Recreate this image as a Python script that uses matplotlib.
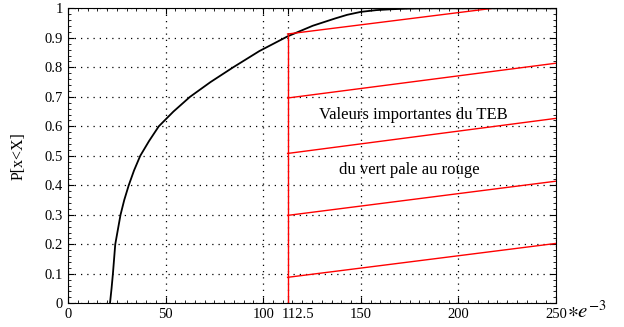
import matplotlib
matplotlib.use('Agg')
import matplotlib.pyplot as plt
from matplotlib.ticker import MultipleLocator
from matplotlib.transforms import ScaledTranslation

plt.rcParams['font.family'] = ['Liberation Serif', 'DejaVu Serif']
plt.rcParams['mathtext.fontset'] = 'stix'

# courbe de repartition
cdf_x = [21.5, 22.3, 23.0, 24.2, 26.9, 28.8, 31.1, 33.8, 37.0, 41.5, 46.5,
         54.0, 62.5, 73.0, 84.6, 98.0, 112.5, 125.4, 137.0, 143.0, 150.0,
         158.0, 166.0, 174.0, 184.0, 250.0]
cdf_y = [0.0, 0.05, 0.10, 0.20, 0.30, 0.35, 0.40, 0.45, 0.50, 0.55, 0.60,
         0.65, 0.70, 0.75, 0.80, 0.855, 0.905, 0.941, 0.966, 0.978, 0.988,
         0.994, 0.997, 0.999, 1.0, 1.0]

seuil = 112.5
seuil_y = [0.0, 0.91]
# segments rouges : (y au seuil, y a 250)
teb_start = [0.088, 0.298, 0.508, 0.696, 0.913]
teb_end = [0.203, 0.414, 0.627, 0.814, 1.027]

xticks = [0, 50, 100, 112.5, 150, 200, 250]
xtick_labels = ['0', '50', '100', '112.5', '150', '200', '250']

fig = plt.figure(figsize=(6.24, 3.27), dpi=100)
ax = fig.add_axes([0.109, 0.0725, 0.782, 0.902])

ax.plot(cdf_x, cdf_y, color='black', lw=1.3)
ax.plot([seuil, seuil], seuil_y, color='red', lw=1.0)
for y0, y1 in zip(teb_start, teb_end):
    ax.plot([seuil, 250], [y0, y1], color='red', lw=1.0)

ax.set_xlim(0, 250)
ax.set_ylim(0, 1)
ax.set_xticks(xticks)
ax.set_xticklabels(xtick_labels)
ax.set_yticks([i / 10 for i in range(11)])
ax.set_yticklabels(['0', '0.1', '0.2', '0.3', '0.4', '0.5', '0.6', '0.7',
                    '0.8', '0.9', '1'])
ax.xaxis.set_minor_locator(MultipleLocator(5))
ax.yaxis.set_minor_locator(MultipleLocator(0.02))
ax.tick_params(which='both', direction='in', top=True, right=True,
               labelsize=10.5)
ax.tick_params(which='major', length=4, width=0.8)
ax.tick_params(which='minor', length=2, width=0.6)
ax.grid(True, which='major', linestyle=(0, (1, 4)), color='black', lw=0.9)

# decaler le label 112.5 pour qu'il ne chevauche pas 100
lab = ax.get_xticklabels()[3]
lab.set_transform(lab.get_transform() + ScaledTranslation(0.1, 0, fig.dpi_scale_trans))

ax.set_ylabel('P[x<X]', fontsize=11.5)
ax.yaxis.set_label_coords(-0.085, 0.5)

ax.text(177, 0.64, 'Valeurs importantes du TEB', ha='center', va='center',
        fontsize=12)
ax.text(175, 0.453, 'du vert pale au rouge', ha='center', va='center',
        fontsize=12)

fig.text(0.909, 0.045, r'$\ast e^{-3}$', fontsize=15, ha='left', va='center')

fig.savefig('out.png', dpi=100)
